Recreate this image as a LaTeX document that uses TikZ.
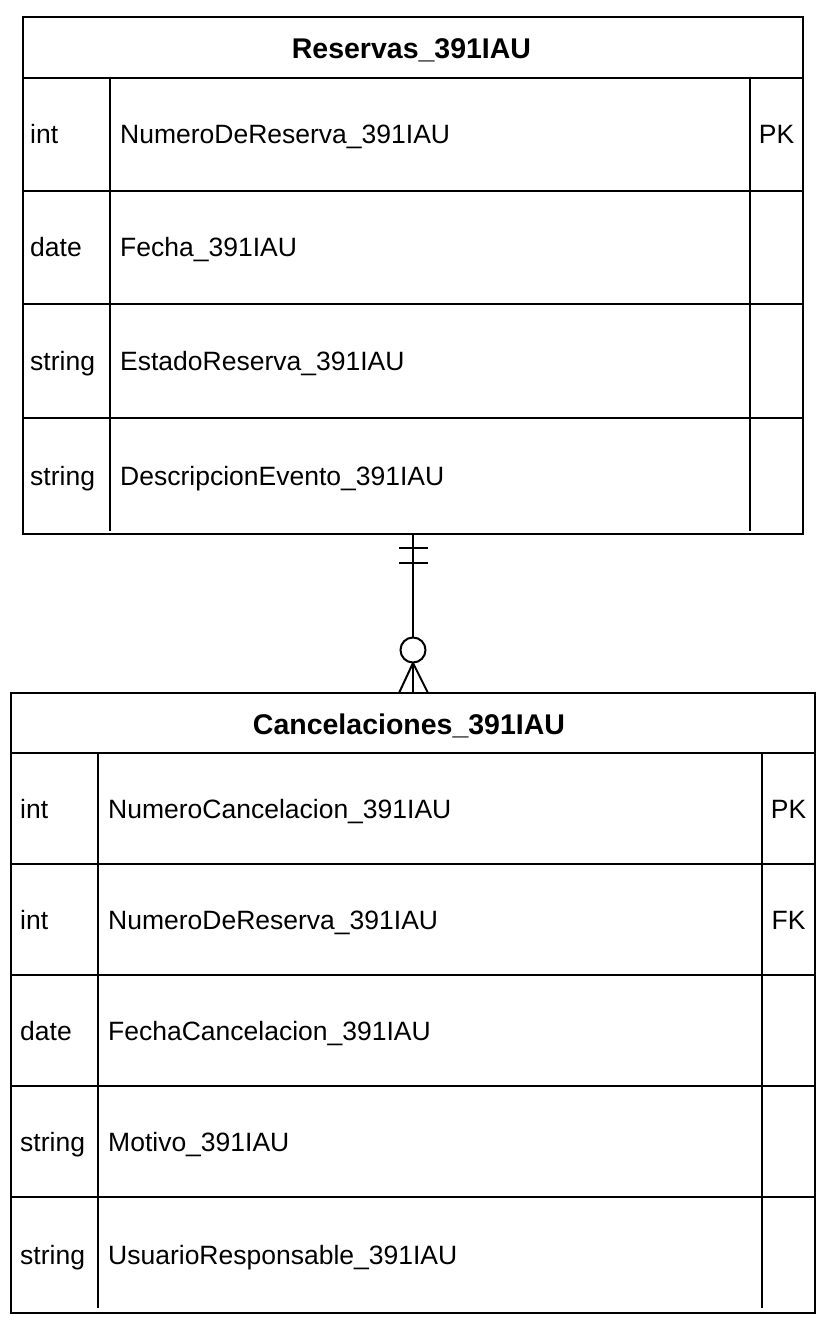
\documentclass[tikz,border=0pt]{standalone}
\usepackage{fontspec}
\setmainfont{Liberation Sans}
\begin{document}
\begin{tikzpicture}[x=1pt,y=-1pt,
  tbl/.style={draw,line width=2pt,anchor=north west,inner sep=0pt,outer sep=0pt},
  ln/.style={line width=2pt},
  cell/.style={anchor=base west,inner sep=0pt,font=\fontsize{26.5}{30}\selectfont},
  key/.style={anchor=base,inner sep=0pt,font=\fontsize{26.5}{30}\selectfont},
  head/.style={anchor=base,inner sep=0pt,font=\fontsize{28.5}{32}\selectfont\bfseries}]
\useasboundingbox (0,0) rectangle (833,1329);
% Table 1
\node[tbl,minimum width=780pt,minimum height=517pt] (res) at (23,17) {};
\draw[ln] (23,78) -- (803,78);
\draw[ln] (23,191) -- (803,191);
\draw[ln] (23,304) -- (803,304);
\draw[ln] (23,418) -- (803,418);
\draw[ln] (110,78) -- (110,531);
\draw[ln] (750,78) -- (750,531);
\node[head] (resh) at (411.5,58.5) {Reservas\_391IAU};
\node[cell] (r1t) at (30,144) {int};
\node[cell] (r1n) at (120,144) {NumeroDeReserva\_391IAU};
\node[key] (r1k) at (776.5,144) {PK};
\node[cell] (r2t) at (30,257) {date};
\node[cell] (r2n) at (120,257) {Fecha\_391IAU};
\node[cell] (r3t) at (30,370.5) {string};
\node[cell] (r3n) at (120,370.5) {EstadoReserva\_391IAU};
\node[cell] (r4t) at (30,485.5) {string};
\node[cell] (r4n) at (120,485.5) {DescripcionEvento\_391IAU};
% Table 2
\node[tbl,minimum width=804pt,minimum height=620pt] (can) at (11,693) {};
\draw[ln] (11,753) -- (815,753);
\draw[ln] (11,864) -- (815,864);
\draw[ln] (11,975) -- (815,975);
\draw[ln] (11,1086) -- (815,1086);
\draw[ln] (11,1197) -- (815,1197);
\draw[ln] (98,753) -- (98,1308);
\draw[ln] (762,753) -- (762,1308);
\node[head] (canh) at (409,734) {Cancelaciones\_391IAU};
\node[cell] (c1t) at (20,818) {int};
\node[cell] (c1n) at (108,818) {NumeroCancelacion\_391IAU};
\node[key] (c1k) at (788.5,818) {PK};
\node[cell] (c2t) at (20,929) {int};
\node[cell] (c2n) at (108,929) {NumeroDeReserva\_391IAU};
\node[key] (c2k) at (788.5,929) {FK};
\node[cell] (c3t) at (20,1040) {date};
\node[cell] (c3n) at (108,1040) {FechaCancelacion\_391IAU};
\node[cell] (c4t) at (20,1151) {string};
\node[cell] (c4n) at (108,1151) {Motivo\_391IAU};
\node[cell] (c5t) at (20,1264) {string};
\node[cell] (c5n) at (108,1264) {UsuarioResponsable\_391IAU};
% Connector
\draw[ln] (res.south) -- (can.north);
\draw[ln] (399,548) -- (428,548);
\draw[ln] (399,563) -- (428,563);
\coordinate (cf) at (413,663);
\draw[ln] (cf) -- (399,693);
\draw[ln] (cf) -- (428,693);
\draw[ln,fill=white] (413,650) circle (12.5);
\end{tikzpicture}
\end{document}
